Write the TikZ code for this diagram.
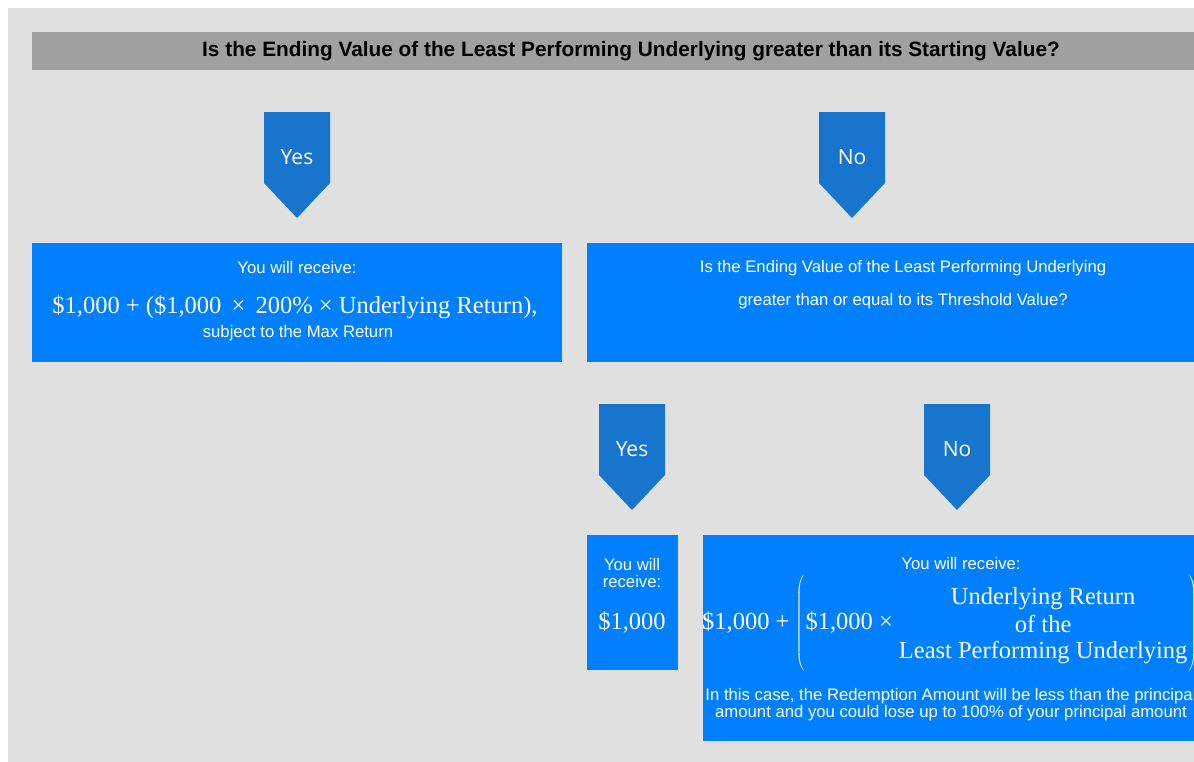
\documentclass[tikz,border=0pt]{standalone}
\usepackage{fontspec}
\setmainfont{Liberation Sans}
\newfontfamily\calcfont{Liberation Serif}
\newfontfamily\tagfont{Open Sans}
\usetikzlibrary{positioning}
\definecolor{pagegray}{RGB}{224,224,224}
\definecolor{bargray}{RGB}{160,160,160}
\definecolor{boxblue}{RGB}{0,128,255}
\definecolor{tagblue}{RGB}{24,117,205}
\tikzset{
	x=1pt, y=-1pt,
	outcome/.style={fill=boxblue, draw=none, inner sep=0pt, anchor=north west},
	note/.style={text=white, inner sep=0pt, align=center, font=\fontsize{16.7}{17}\selectfont},
	calc/.style={text=white, inner sep=0pt, font=\calcfont\fontsize{24.5}{28}\selectfont},
	tag/.style={text=white, inner sep=0pt, font=\tagfont\fontsize{21}{24}\selectfont}}

\begin{document}
\begin{tikzpicture}
	\useasboundingbox (0,0) rectangle (1194,761);
	\clip (0,0) rectangle (1194,761);
	\fill[white] (0,0) rectangle (1194,761);
	\fill[pagegray] (8,8) rectangle (1210,770);
	
	% question bar
	\fill[bargray] (32,32) rectangle (1210,70);
	\node[inner sep=0pt, font=\bfseries\fontsize{20.8}{24}\selectfont] (ask) at (631,51)
		{Is the Ending Value of the Least Performing Underlying greater than its Starting Value?};
	
	% yes / no tags
	\foreach \cx/\ty/\name/\word in {297/112/yesA/Yes, 852/112/noA/No, 632/404/yesB/Yes, 957/404/noB/No} {
		\fill[tagblue] (\cx-33,\ty) -- ++(66,0) -- ++(0,71) -- ++(-33,35) -- ++(-33,-35) -- cycle;
		\node[tag] (\name) at (\cx,\ty+45) {\word};
	}
	
	% boxes
	\node[outcome, minimum width=530, minimum height=119] (gain) at (32,243) {};
	\node[outcome, minimum width=630, minimum height=119] (check) at (587,243) {};
	\node[outcome, minimum width=91, minimum height=135] (par) at (587,535) {};
	\node[outcome, minimum width=520, minimum height=206] (loss) at (703,535) {};
	
	\node[note] (gainhead) at (297,268) {You will receive:};
	\node[calc] (gainsum) at (295,307) {\$1,000 + (\$1,000 \,×\, 200\% × Underlying Return),};
	\node[note] (gaincap) at (298,333) {subject to the Max Return};
	
	\node[note] (checkA) at (903,268) {Is the Ending Value of the Least Performing Underlying};
	\node[note] (checkB) at (903,301) {greater than or equal to its Threshold Value?};
	
	\node[note] (parhead) at (632,573) {You will\\receive:};
	\node[calc] (parsum) at (632,623) {\$1,000};
	
	\node[note] (losshead) at (961,564) {You will receive:};
	\node[calc, anchor=west] (losssum) at (702,624)
		{\$1,000 + $\left(\vrule height 44pt depth 44pt width 0pt\right.$\$1,000 ×\hspace{6pt}%
		\raisebox{-3pt}{\begin{tabular}{@{}c@{}}Underlying Return\\[0pt]of the\\[-2pt]Least Performing Underlying\end{tabular}}%
		$\left.\vrule height 44pt depth 44pt width 0pt\right)$};
	\node[note] (losscap) at (951,705) {In this case, the Redemption Amount will be less than the principal\\
		amount and you could lose up to 100\% of your principal amount};
\end{tikzpicture}
\end{document}
